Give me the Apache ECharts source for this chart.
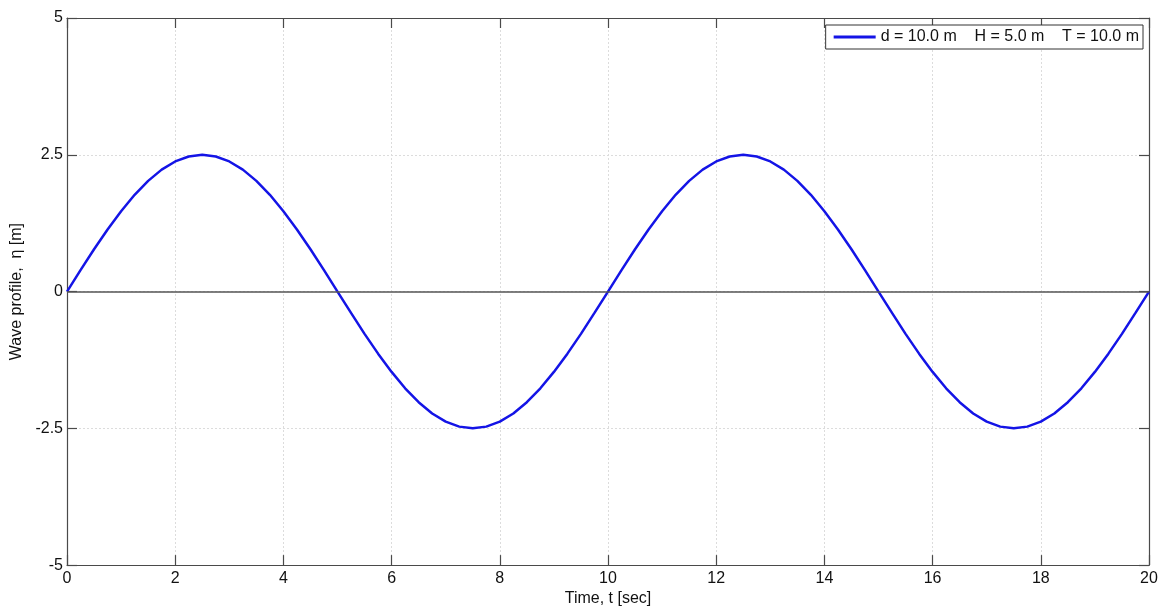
<!DOCTYPE html>
<html><head><meta charset="utf-8">
<script src="https://cdn.jsdelivr.net/npm/echarts@6/dist/echarts.min.js"></script>
<style>html,body{margin:0;padding:0;background:#fff;overflow:hidden}#c{width:1167px;height:612px}</style>
</head><body><div id="c"></div>
<script>
const seriesName = 'd = 10.0 m    H = 5.0 m    T = 10.0 m';
const times = [0,0.25,0.5,0.75,1,1.25,1.5,1.75,2,2.25,2.5,2.75,3,3.25,3.5,3.75,4,4.25,4.5,4.75,5,5.25,5.5,5.75,6,6.25,6.5,6.75,7,7.25,7.5,7.75,8,8.25,8.5,8.75,9,9.25,9.5,9.75,10,10.25,10.5,10.75,11,11.25,11.5,11.75,12,12.25,12.5,12.75,13,13.25,13.5,13.75,14,14.25,14.5,14.75,15,15.25,15.5,15.75,16,16.25,16.5,16.75,17,17.25,17.5,17.75,18,18.25,18.5,18.75,19,19.25,19.5,19.75,20];
const eta = [0,0.391,0.773,1.135,1.469,1.768,2.023,2.228,2.378,2.469,2.5,2.469,2.378,2.228,2.023,1.768,1.469,1.135,0.773,0.391,
  0,-0.391,-0.773,-1.135,-1.469,-1.768,-2.023,-2.228,-2.378,-2.469,-2.5,-2.469,-2.378,-2.228,-2.023,-1.768,-1.469,-1.135,-0.773,-0.391,
  0,0.391,0.773,1.135,1.469,1.768,2.023,2.228,2.378,2.469,2.5,2.469,2.378,2.228,2.023,1.768,1.469,1.135,0.773,0.391,
  0,-0.391,-0.773,-1.135,-1.469,-1.768,-2.023,-2.228,-2.378,-2.469,-2.5,-2.469,-2.378,-2.228,-2.023,-1.768,-1.469,-1.135,-0.773,-0.391,0];
const xTicks = {min:0, max:20, interval:2};
const yTicks = {min:-5, max:5, interval:2.5};
const xLabel = 'Time, t [sec]';
const yLabel = 'Wave profile,  \u03b7 [m]';

const font = 'Liberation Sans, Arial, sans-serif';
const axisLineStyle = {color:'#4a4a4a', width:1.2};
const chart = echarts.init(document.getElementById('c'));
const data = times.map((t,i)=>[t, eta[i]]);
chart.setOption({
  animation:false,
  backgroundColor:'#fff',
  grid:{left:67, right:18, top:18, bottom:42},
  legend:{
    data:[seriesName], right:24, top:25, orient:'horizontal',
    itemWidth:42, itemHeight:3, itemGap:4,
    padding:[4,4,4,8], borderColor:'#333', borderWidth:1, backgroundColor:'#fff',
    icon:'rect',
    textStyle:{fontFamily:font, fontSize:16, color:'#111'}
  },
  xAxis:[{
    type:'value', min:xTicks.min, max:xTicks.max, interval:xTicks.interval,
    name:xLabel, nameLocation:'middle', nameGap:25,
    nameTextStyle:{fontFamily:font, fontSize:16, color:'#111'},
    axisLine:{show:true, onZero:false, lineStyle:axisLineStyle},
    axisTick:{show:true, inside:true, length:10, lineStyle:axisLineStyle},
    axisLabel:{fontFamily:font, fontSize:16, color:'#111', margin:5},
    splitLine:{show:true, lineStyle:{color:'#dcdcdc', width:1, type:[2,2]}}
  },{
    type:'value', position:'top', min:xTicks.min, max:xTicks.max, interval:xTicks.interval,
    axisLine:{show:true, onZero:false, lineStyle:axisLineStyle},
    axisTick:{show:true, inside:true, length:10, lineStyle:axisLineStyle},
    axisLabel:{show:false}, splitLine:{show:false}
  }],
  yAxis:[{
    type:'value', min:yTicks.min, max:yTicks.max, interval:yTicks.interval,
    name:yLabel, nameLocation:'middle', nameGap:37, nameRotate:90,
    nameTextStyle:{fontFamily:font, fontSize:16, color:'#111'},
    axisLine:{show:true, onZero:false, lineStyle:axisLineStyle},
    axisTick:{show:true, inside:true, length:10, lineStyle:axisLineStyle},
    axisLabel:{fontFamily:font, fontSize:16, color:'#111', margin:4},
    splitLine:{show:true, lineStyle:{color:'#dcdcdc', width:1, type:[2,2]}}
  },{
    type:'value', position:'right', min:yTicks.min, max:yTicks.max, interval:yTicks.interval,
    axisLine:{show:true, onZero:false, lineStyle:axisLineStyle},
    axisTick:{show:true, inside:true, length:10, lineStyle:axisLineStyle},
    axisLabel:{show:false}, splitLine:{show:false}
  }],
  series:[{
    name:seriesName, type:'line', data:data, smooth:false,
    showSymbol:false, symbol:'none',
    lineStyle:{color:'#1414e6', width:2.5},
    itemStyle:{color:'#1414e6'},
    markLine:{
      silent:true, symbol:['none','none'], label:{show:false},
      lineStyle:{color:'#555', width:1.5, type:'solid'},
      data:[{yAxis:0}]
    },
    z:3
  }]
});
</script></body></html>
